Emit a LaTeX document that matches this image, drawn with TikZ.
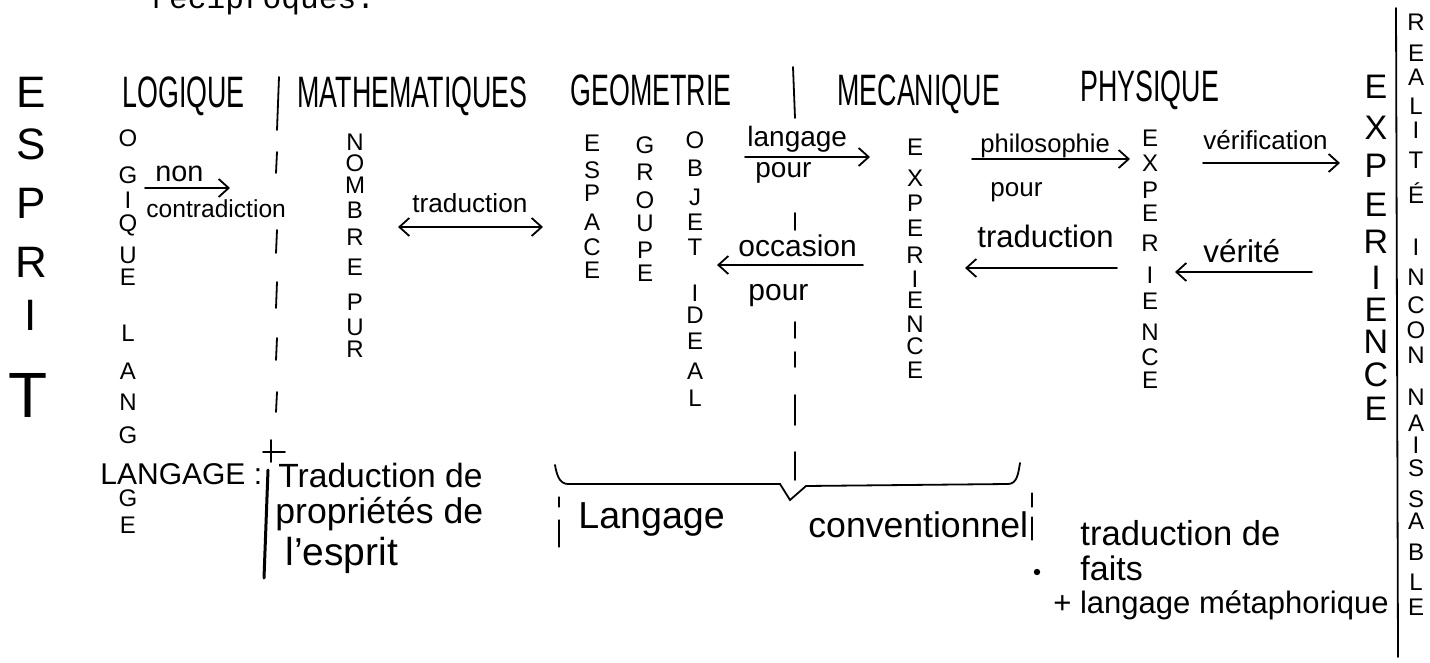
\documentclass[tikz,border=0pt]{standalone}
\usepackage{graphicx}
\usepackage{fontspec}
\setmainfont{Liberation Sans}
\newfontfamily\typefont{Liberation Mono}
\usetikzlibrary{arrows.meta}
\newcommand{\fs}[1]{\fontsize{#1}{#1}\selectfont}
\newcommand{\narrow}[1]{\scalebox{0.61}[1]{#1}}
\tikzset{
  hand/.style={line width=0.9pt, line cap=round},
  fl/.style={hand, -{Straight Barb[length=5pt,width=9pt]}},
  dfl/.style={hand, {Straight Barb[length=5pt,width=9pt]}-{Straight Barb[length=5pt,width=9pt]}},
  head/.style={font=\fs{22}, inner sep=0pt, anchor=base west},
  vl/.style={font=\fs{#1}, inner sep=0pt, text depth=0pt},
  vl/.default=12,
  word/.style={anchor=base west, inner sep=0pt},
}
\begin{document}
\begin{tikzpicture}[x=0.5pt,y=-0.5pt]
\useasboundingbox (0,0) rectangle (1430,663);
% typed line, cut at the top
\node[word, font=\typefont\fs{15.6}] (recip) at (150,9) {réciproques.};

% headings
\node[head] (logique) at (122,108) {\narrow{LOGIQUE}};
\node[head] (maths) at (297,108) {\narrow{MATHEMATIQUES}};
\node[head] (geom) at (570,106) {\narrow{GEOMETRIE}};
\node[head] (meca) at (837,106) {\narrow{MECANIQUE}};
\node[head] (phys) at (1080,102) {\narrow{PHYSIQUE}};

% ESPRIT
\foreach \l/\y [count=\i] in {E/92,S/144,P/203,R/262,I/315}
  \node[vl=22] (esprit-\i) at (31,\y) {\l};
\node[vl=32] (esprit-6) at (28,395) {T};

% vertical words
\foreach \l/\y [count=\i] in {O/138,G/175,I/200,Q/223,U/255,E/277,L/333,A/371,N/402,G/435,G/498,E/525}
  \node[vl] (log-\i) at (128,\y) {\l};
\node[word, font=\fs{15}] (langage) at (100,484) {LANGAGE :};
\foreach \l/\y [count=\i] in {N/142,O/163,M/185,B/210,R/237,E/267,P/302,U/327,R/349}
  \node[vl] (pur-\i) at (355,\y) {\l};
\foreach \l/\y [count=\i] in {E/143,S/170,P/193,A/222,C/247,E/270}
  \node[vl] (espace-\i) at (592,\y) {\l};
\foreach \l/\y [count=\i] in {G/145,R/172,O/200,U/223,P/250,E/273}
  \node[vl] (groupe-\i) at (645,\y) {\l};
\foreach \l/\y [count=\i] in {O/140,B/168,J/197,E/222,T/247,I/293,D/315,E/341,A/371,L/398}
  \node[vl] (objet-\i) at (695,\y) {\l};
\foreach \l/\y [count=\i] in {E/147,X/178,P/203,E/228,R/255,I/279,E/300,N/324,C/346,E/370}
  \node[vl] (expa-\i) at (915,\y) {\l};
\foreach \l/\y [count=\i] in {E/138,X/163,P/190,E/213,R/243,I/275,E/301,N/332,C/357,E/380}
  \node[vl] (expb-\i) at (1150,\y) {\l};
\foreach \l/\y [count=\i] in {E/87,X/128,P/166,E/205,R/242,I/278,E/310,N/342,C/375,E/409}
  \node[vl=17] (expc-\i) at (1376,\y) {\l};
\foreach \l/\y [count=\i] in {R/22,E/53,A/77,L/106,I/130,T/160,É/193,I/247,N/277,C/305,O/330,N/355,N/397,A/423,I/445,S/468,S/499,A/521,B/552,L/582,E/607}
  \node[vl] (real-\i) at (1416,\y) {\l};

% dividers
\draw[hand] (279,77) -- (277,130);
\foreach \a/\b in {152/173,230/253,282/308,338/360,392/412}
  \draw[hand] (277,\a) -- (276,\b);
\draw[hand] (263,452) -- (285,452) (271,440) -- (271,462);
\draw[hand, line width=1.5pt] (268,470) -- (264,578);
\draw[hand] (793,67) -- (795,118);
\foreach \a/\b in {213/230,322/338,352/367,395/425,452/480}
  \draw[hand] (795,\a) -- (795,\b);
\draw[hand] (1396,8) -- (1398,657);

% arrows and their words
\coordinate (nc-a) at (145,188); \coordinate (nc-b) at (230,188);
\coordinate (tr-a) at (398,227); \coordinate (tr-b) at (543,227);
\coordinate (lp-a) at (745,157); \coordinate (lp-b) at (870,157);
\coordinate (oc-a) at (863,265); \coordinate (oc-b) at (717,265);
\coordinate (ph-a) at (972,159); \coordinate (ph-b) at (1130,159);
\coordinate (tb-a) at (1117,268); \coordinate (tb-b) at (965,268);
\coordinate (vf-a) at (1203,163); \coordinate (vf-b) at (1340,163);
\coordinate (vt-a) at (1312,272); \coordinate (vt-b) at (1175,272);
\draw[fl] (nc-a) -- (nc-b);
\draw[dfl] (tr-a) -- (tr-b);
\draw[fl] (lp-a) -- (lp-b);
\draw[fl] (oc-a) -- (oc-b);
\draw[fl] (ph-a) -- (ph-b);
\draw[fl] (tb-a) -- (tb-b);
\draw[fl] (vf-a) -- (vf-b);
\draw[fl] (vt-a) -- (vt-b);
\node[word, font=\fs{14.4}] (non) at (155,182) {non};
\node[word, font=\fs{12.3}] (contra) at (146,218) {contradiction};
\node[word, font=\fs{13.1}] (trad-a) at (412,213) {traduction};
\node[word, font=\fs{14}] (lang-a) at (747,147) {langage};
\node[word, font=\fs{14}] (pour-a) at (755,178) {pour};
\node[word, font=\fs{15}] (occ) at (738,257) {occasion};
\node[word, font=\fs{15}] (pour-b) at (748,300) {pour};
\node[word, font=\fs{12.8}] (philo) at (980,153) {philosophie};
\node[word, font=\fs{13}] (pour-c) at (990,197) {pour};
\node[word, font=\fs{15.5}] (trad-b) at (977,248) {traduction};
\node[word, font=\fs{13}] (verif) at (1203,150) {vérification};
\node[word, font=\fs{15.7}] (verite) at (1203,263) {vérité};

% brace
\coordinate (br-l) at (555,465); \coordinate (br-tip) at (790,500); \coordinate (br-r) at (1020,463);
\draw[hand] (br-l) to[out=-80,in=180] (568,484) -- (780,484) -- (br-tip) -- (806,486) -- (1008,484) to[out=0,in=-100] (br-r);
\foreach \a/\b in {497/507,520/547}
  \draw[hand, line width=0.6pt] (559,\a) -- (559,\b);
\foreach \a/\b in {493/507,517/540}
  \draw[hand, line width=0.6pt] (1032,\a) -- (1032,\b);

% bottom words
\node[word, font=\fs{16.8}] (trad-c) at (278,487) {Traduction de};
\node[word, font=\fs{17.8}] (prop) at (275,523) {propriétés de};
\node[word, font=\fs{19.5}] (esp) at (285,565) {l'esprit};
\node[word, font=\fs{18.8}] (lang-b) at (578,528) {Langage};
\node[word, font=\fs{17.8}] (conv) at (808,537) {conventionnel};
\node[word, font=\fs{17.3}] (trad-d) at (1080,545) {traduction de};
\node[word, font=\fs{17}] (faits) at (1080,580) {faits};
\node[word, font=\fs{15.5}] (meta) at (1053,613) {+ langage métaphorique};
\fill (1037,572) circle (1.6pt);
\end{tikzpicture}
\end{document}
